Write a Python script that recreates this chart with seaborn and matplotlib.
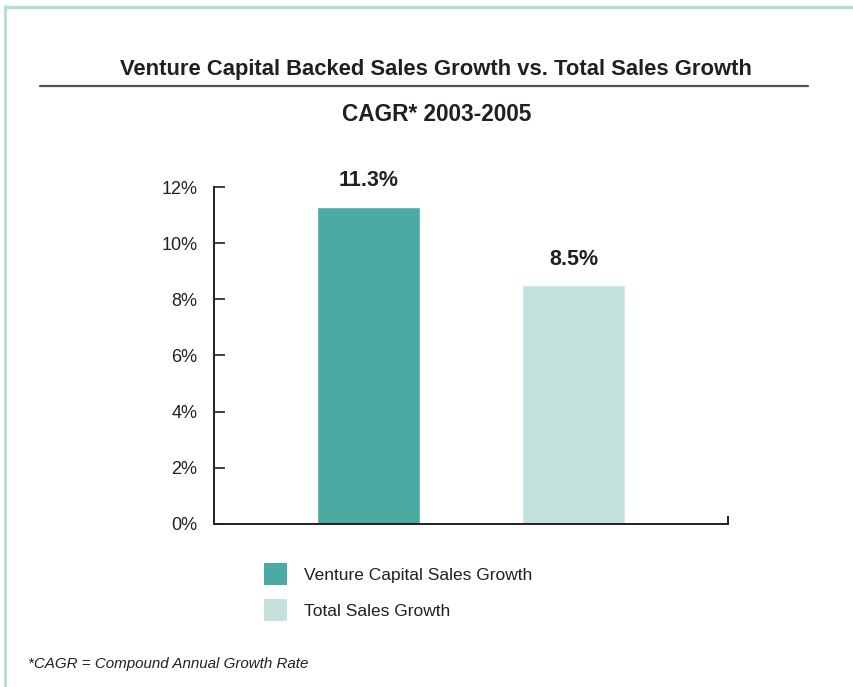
import matplotlib
matplotlib.use("Agg")
import matplotlib.pyplot as plt
import seaborn as sns
import pandas as pd
from matplotlib.lines import Line2D
from matplotlib.patches import Patch
from matplotlib.ticker import FuncFormatter

categories = ['Venture Capital Sales Growth', 'Total Sales Growth']
values = [11.3, 8.5]
colors = ['#4baba2', '#c5e1dd']
y_ticks = [0, 2, 4, 6, 8, 10, 12]

title = 'Venture Capital Backed Sales Growth vs. Total Sales Growth'
subtitle = 'CAGR* 2003-2005'
footnote = '*CAGR = Compound Annual Growth Rate'

sns.set_style('white')
plt.rcParams['font.family'] = ['Liberation Sans', 'DejaVu Sans']
plt.rcParams['text.color'] = '#231f20'

df = pd.DataFrame({'Category': categories, 'Growth': values})

fig = plt.figure(figsize=(8.54, 6.87), dpi=100)
fig.patch.set_facecolor('white')
ax = fig.add_axes([0.2506, 0.2373, 0.6019, 0.4905])

sns.barplot(data=df, x='Category', y='Growth', hue='Category',
            palette=colors, width=0.5, saturation=1, legend=False, ax=ax)

for cont, v in zip(ax.containers, values):
    ax.bar_label(cont, labels=[f'{v}%'], padding=11, fontsize=15.5,
                 fontweight='bold', color='#231f20')

ax.set_xlim(-0.75, 1.75)
ax.set_ylim(0, 12)
ax.set_yticks(y_ticks)
ax.yaxis.set_major_formatter(FuncFormatter(lambda v, p: f'{v:.0f}%'))
ax.set_xticks([])
ax.set_xlabel('')
ax.set_ylabel('')
ax.tick_params(axis='y', direction='in', length=8, width=1.2, color='#231f20',
               labelsize=13, labelcolor='#231f20', pad=12, left=True)

for s in ['left', 'bottom']:
    ax.spines[s].set_color('#231f20')
    ax.spines[s].set_linewidth(1.4)
ax.spines['top'].set_visible(False)
ax.spines['right'].set_visible(True)
ax.spines['right'].set_bounds(0, 0.25)
ax.spines['right'].set_color('#231f20')
ax.spines['right'].set_linewidth(1.4)

handles = [Patch(facecolor=c, edgecolor='none') for c in colors]
fig.legend(handles, categories, loc='upper left', bbox_to_anchor=(264 / 854, 1 - 563 / 687),
           frameon=False, fontsize=12.5, handlelength=1.32, handleheight=1.6,
           handletextpad=1.0, labelspacing=0.78, borderpad=0, borderaxespad=0)

fig.text(0.511, 0.899, title, ha='center', va='center', fontsize=15.8,
         fontweight='bold')
fig.add_artist(Line2D([40 / 854, 808 / 854], [1 - 86 / 687, 1 - 86 / 687],
                      color='#555555', lw=1.6))
fig.text(0.511, 0.834, subtitle, ha='center', va='center', fontsize=16.3,
         fontweight='bold')
fig.text(0.033, 0.034, footnote, ha='left', va='center', fontsize=10.9,
         style='italic')

# light border on top and left edge
fig.add_artist(Line2D([5.5 / 854, 5.5 / 854], [0, 1 - 6 / 687], color='#b3ddd5', lw=2))
fig.add_artist(Line2D([5 / 854, 1], [1 - 6.5 / 687, 1 - 6.5 / 687], color='#b3ddd5', lw=2.5))

fig.savefig('out.png', dpi=100)
